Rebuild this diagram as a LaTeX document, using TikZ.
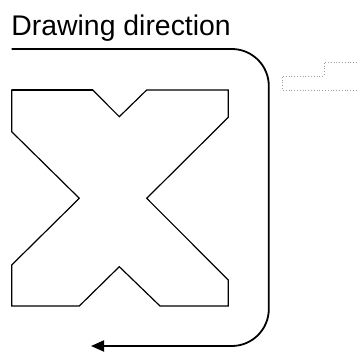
\documentclass[tikz,border=0pt]{standalone}
\usepackage{fontspec}
\setmainfont{Liberation Sans}
\usetikzlibrary{arrows.meta}
\begin{document}
\begin{tikzpicture}[x=1pt,y=-1pt,
  outline/.style={line width=1.2pt,line join=miter},
  boldedge/.style={line width=2.6pt},
  dirarrow/.style={line width=1.8pt,rounded corners=37pt,-{Triangle[length=13pt,width=11pt]}},
  dotline/.style={gray!75,line width=0.9pt,dash pattern=on 1pt off 1.8pt},
  title/.style={font=\fontsize{28.4}{32}\selectfont,anchor=base west,inner sep=0pt}]
\useasboundingbox (0,0) rectangle (357,352);
\node[title] (t) at (11.2,35.7) {Drawing direction};
% X shape
\coordinate (p1) at (11.7,90);
\coordinate (p2) at (92.7,90);
\coordinate (p3) at (119.3,116.7);
\coordinate (p4) at (146.7,90);
\coordinate (p5) at (228.3,90);
\coordinate (p6) at (228.3,117.3);
\coordinate (p7) at (146.7,198.3);
\coordinate (p8) at (228.3,280);
\coordinate (p9) at (228.3,306);
\coordinate (p10) at (160,306);
\coordinate (p11) at (119.3,266.7);
\coordinate (p12) at (79.3,306);
\coordinate (p13) at (11.7,306);
\coordinate (p14) at (11.7,265);
\coordinate (p15) at (79.3,198.3);
\coordinate (p16) at (11.7,131.7);
\draw[outline] (p1) -- (p2) -- (p3) -- (p4) -- (p5) -- (p6) -- (p7) -- (p8) -- (p9) -- (p10) -- (p11) -- (p12) -- (p13) -- (p14) -- (p15) -- (p16) -- cycle;
\draw[boldedge] (p1) -- (p2);
% direction arrow
\coordinate (a0) at (11.7,49);
\coordinate (a1) at (268.8,49);
\coordinate (a2) at (268.8,346);
\coordinate (a3) at (91,346);
\draw[dirarrow] (a0) -- (a1) -- (a2) -- (a3);
% dotted outline
\coordinate (d1) at (357,62.3);
\coordinate (d2) at (324,62.3);
\coordinate (d3) at (324,76);
\coordinate (d4) at (282,76);
\coordinate (d5) at (282,90);
\coordinate (d6) at (357,90);
\draw[dotline] (d1) -- (d2) -- (d3) -- (d4) -- (d5) -- (d6);
\end{tikzpicture}
\end{document}
